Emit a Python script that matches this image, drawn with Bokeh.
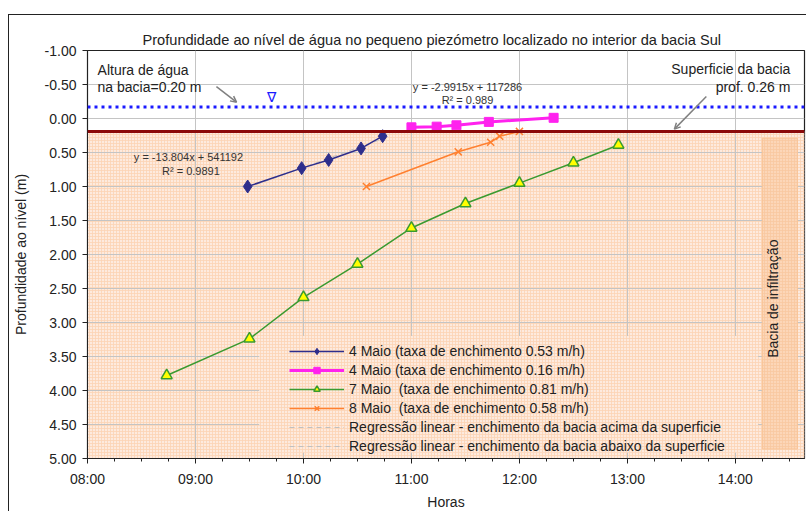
import numpy as np
from bokeh.plotting import figure
from bokeh.models import (Range1d, FixedTicker, Legend, LegendItem, Label, Arrow,
                          OpenHead, PrintfTickFormatter, Span)
from bokeh.embed import file_html
from bokeh.resources import INLINE

# ---------------- data ----------------
maio4a_t = ["09:29", "09:59", "10:14", "10:32", "10:44"]
maio4a_d = [1.00, 0.73, 0.61, 0.44, 0.26]
maio4b_t = ["11:00", "11:14", "11:25", "11:43", "12:19"]
maio4b_d = [0.13, 0.12, 0.10, 0.05, -0.01]
maio7_t = ["08:44", "09:30", "10:00", "10:30", "11:00", "11:30", "12:00", "12:30", "12:55"]
maio7_d = [3.78, 3.24, 2.63, 2.14, 1.61, 1.25, 0.95, 0.65, 0.39]
maio8_t = ["10:35", "11:26", "11:44", "11:49", "12:00"]
maio8_d = [1.00, 0.49, 0.35, 0.26, 0.19]

hour_ticks = [8, 9, 10, 11, 12, 13, 14]
hour_labels = ["08:00", "09:00", "10:00", "11:00", "12:00", "13:00", "14:00"]
depth_ticks = [-1.0, -0.5, 0.0, 0.5, 1.0, 1.5, 2.0, 2.5, 3.0, 3.5, 4.0, 4.5, 5.0]

water_level = -0.17      # blue dotted line
surface_level = 0.19     # dark red line

names = ["4 Maio (taxa de enchimento 0.53 m/h)",
         "4 Maio (taxa de enchimento 0.16 m/h)",
         "7 Maio  (taxa de enchimento 0.81 m/h)",
         "8 Maio  (taxa de enchimento 0.58 m/h)",
         "Regressão linear - enchimento da bacia acima da superficie",
         "Regressão linear - enchimento da bacia abaixo da superficie"]

FONT = "Liberation Sans"
X0, X1 = 8.0, 14.64
Y0, Y1 = 5.0, -1.0


def hrs(ts):
    return [int(t[:2]) + int(t[3:]) / 60 for t in ts]


p = figure(width=798, height=497, output_backend="svg", toolbar_location=None,
           x_range=Range1d(X0, X1), y_range=Range1d(Y0, Y1),
           min_border_left=77, min_border_right=3, min_border_top=35, min_border_bottom=48,
           background_fill_color="white", border_fill_color="white")
p.styles = {"margin-left": "8px", "margin-top": "14px",
            "border-left": "1px solid #222222", "border-top": "1px solid #222222"}

p.title.text = "Profundidade ao nível de água no pequeno piezómetro localizado no interior da bacia Sul"
p.title.text_font = FONT
p.title.text_font_size = "14.6px"
p.title.text_font_style = "normal"
p.title.text_color = "#222222"
p.title.align = "left"
p.title.offset = 55
p.title.standoff = 6

p.outline_line_color = "#222222"
p.outline_line_width = 1.2

# axes
p.xaxis.ticker = FixedTicker(ticks=hour_ticks,
                             minor_ticks=[8 + i * 0.25 for i in range(27)])
p.xaxis.major_label_overrides = {t: l for t, l in zip(hour_ticks, hour_labels)}
p.yaxis.ticker = FixedTicker(ticks=depth_ticks)
p.yaxis.formatter = PrintfTickFormatter(format="%.2f")
for ax in (p.xaxis[0], p.yaxis[0]):
    ax.major_label_text_font = FONT
    ax.major_label_text_font_size = "14px"
    ax.major_label_text_color = "#222222"
    ax.axis_label_text_font = FONT
    ax.axis_label_text_font_size = "14px"
    ax.axis_label_text_font_style = "normal"
    ax.axis_label_text_color = "#222222"
    ax.axis_line_color = "#222222"
    ax.major_tick_line_color = "#222222"
    ax.minor_tick_line_color = "#222222"
    ax.major_tick_in = 0
    ax.major_tick_out = 5
    ax.minor_tick_in = 0
    ax.minor_tick_out = 3
p.yaxis.minor_tick_line_color = None
p.xaxis.axis_label = "Horas"
p.yaxis.axis_label = "Profundidade ao nível (m)"
p.xaxis.major_label_standoff = 7
p.xaxis.axis_label_standoff = 4
p.yaxis.major_label_standoff = 6
p.yaxis.axis_label_standoff = 13

p.xgrid.ticker = FixedTicker(ticks=hour_ticks)
p.ygrid.ticker = FixedTicker(ticks=depth_ticks)
p.xgrid.grid_line_color = "#c4c4c4"
p.ygrid.grid_line_color = "#c4c4c4"

# shaded area below the basin surface
p.quad(left=X0, right=X1, bottom=Y0, top=surface_level, level="image",
       fill_color="#fdeade", line_color=None,
       hatch_pattern="+", hatch_color="#fbd3b4", hatch_scale=3, hatch_weight=0.8)

# legend backdrop (covers the grid like the original)
p.quad(left=9.59, right=14.21, bottom=4.91, top=3.20,
       fill_color="#fdeade", line_color=None,
       hatch_pattern="+", hatch_color="#fbd3b4", hatch_scale=3, hatch_weight=0.8)

# "Bacia de infiltração" box
p.quad(left=14.25, right=14.574, bottom=4.86, top=0.29,
       fill_color="#fcd6b8", line_color="#f9c497", line_width=1,
       hatch_pattern="+", hatch_color="#f9c8a0", hatch_scale=3, hatch_weight=0.8)

# reference lines
p.add_layout(Span(location=surface_level, dimension="width",
                  line_color="#8b0a0a", line_width=3))
p.add_layout(Span(location=water_level, dimension="width",
                  line_color="#1a1aff", line_width=3, line_dash="3 4"))

# regression lines (least squares of the series)
reg_renderers = []
for t, d in ((maio4b_t, maio4b_d), (maio4a_t, maio4a_d)):
    xs = np.array(hrs(t))
    k, b = np.polyfit(xs, np.array(d), 1)
    xe = np.array([xs.min(), xs.max()])
    reg_renderers.append(p.line(xe, k * xe + b, line_color="#c0c0c0",
                                line_width=1, line_dash="5 4"))

# series
xs1 = hrs(maio4a_t)
l1 = p.line(xs1, maio4a_d, line_color="#2e2e8c", line_width=1.5)
m1 = p.scatter(xs1, maio4a_d, marker="diamond", size=13,
               fill_color="#2e2e8c", line_color="#2e2e8c")

xs2 = hrs(maio4b_t)
l2 = p.line(xs2, maio4b_d, line_color="#ff22ee", line_width=3)
m2 = p.scatter(xs2, maio4b_d, marker="square", size=9,
               fill_color="#ff22ee", line_color="#ff22ee")

xs3 = hrs(maio7_t)
l3 = p.line(xs3, maio7_d, line_color="#3a9a30", line_width=1.5)
m3 = p.scatter(xs3, maio7_d, marker="triangle", size=11,
               fill_color="#ffff00", line_color="#3a9a30", line_width=1.5)

xs4 = hrs(maio8_t)
l4 = p.line(xs4, maio8_d, line_color="#ff8030", line_width=1.5)
m4 = p.scatter(xs4, maio8_d, marker="x", size=10,
               line_color="#ff8030", line_width=1.5)

legend = Legend(items=[LegendItem(label=names[0], renderers=[l1, m1]),
                       LegendItem(label=names[1], renderers=[l2, m2]),
                       LegendItem(label=names[2], renderers=[l3, m3]),
                       LegendItem(label=names[3], renderers=[l4, m4]),
                       LegendItem(label=names[4], renderers=[reg_renderers[0]]),
                       LegendItem(label=names[5], renderers=[reg_renderers[1]])],
                location=(202, 4), label_text_font=FONT, label_text_font_size="14px",
                label_text_color="#222222", glyph_width=55, glyph_height=16,
                label_height=16, spacing=3, padding=2, margin=0, label_standoff=5,
                background_fill_alpha=0, border_line_color=None)
p.add_layout(legend)

# annotations
def lab(x, y, text, size="14px", align="left", baseline="middle", color="#222222", angle=0):
    p.add_layout(Label(x=x, y=y, text=text, text_font=FONT, text_font_size=size,
                       text_align=align, text_baseline=baseline, text_color=color,
                       angle=angle))

lab(8.093, -0.72, "Altura de água")
lab(8.093, -0.47, "na bacia=0.20  m")
lab(14.509, -0.73, "Superficie da bacia", align="right")
lab(14.509, -0.46, "prof. 0.26 m", align="right")
lab(8.935, 0.56, "y = -13.804x + 541192", size="11px", align="center", color="#333333")
lab(8.958, 0.77, "R² = 0.9891", size="11px", align="center", color="#333333")
lab(11.519, -0.47, "y = -2.9915x + 117286", size="11px", align="center", color="#333333")
lab(11.519, -0.27, "R² = 0.989", size="11px", align="center", color="#333333")
lab(14.345, 2.65, "Bacia de infiltração", align="center", angle=np.pi / 2)
lab(9.70, -0.31, "∇", size="14px", align="center", color="#1a1aff")

p.add_layout(Arrow(end=OpenHead(size=6, line_color="#808080", line_width=1.5),
                   x_start=9.194, y_start=-0.47, x_end=9.38, y_end=-0.24,
                   line_color="#808080", line_width=1.5))
p.add_layout(Arrow(end=OpenHead(size=6, line_color="#808080", line_width=1.5),
                   x_start=13.731, y_start=-0.325, x_end=13.435, y_end=0.156,
                   line_color="#808080", line_width=1.5))

open("out.html", "w").write(file_html(p, INLINE))
